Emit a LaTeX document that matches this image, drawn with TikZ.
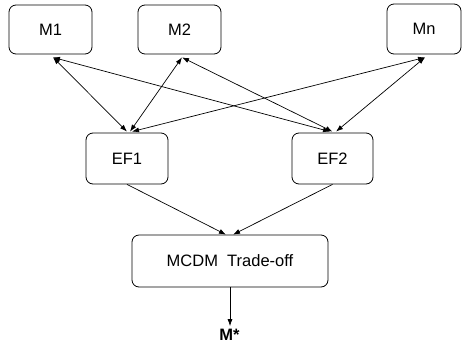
\documentclass[tikz,border=0pt]{standalone}
\usepackage{fontspec}
\setmainfont{Liberation Sans}
\usetikzlibrary{arrows.meta}
\begin{document}
\begin{tikzpicture}[x=1pt,y=-1pt,
  box/.style={draw, line width=0.8pt, rounded corners=7pt, inner sep=0pt,
    font=\fontsize{16.5}{19}\selectfont},
  link/.style={line width=0.7pt, {Latex[length=7pt,width=5pt]}-{Latex[length=7pt,width=5pt]}},
  flow/.style={line width=0.7pt, -{Latex[length=7pt,width=5pt]}}]
\useasboundingbox (0,0) rectangle (462,359);
% model alternatives
\node[box, minimum width=83pt, minimum height=49pt] (M1) at (50.5,29.5) {M1};
\node[box, minimum width=83pt, minimum height=49pt] (M2) at (179.5,29.5) {M2};
\node[box, minimum width=74pt, minimum height=50pt] (Mn) at (424,29) {Mn};
% evaluation functions
\node[box, minimum width=82pt, minimum height=51pt] (EF1) at (127,158.5) {EF1};
\node[box, minimum width=81pt, minimum height=51pt] (EF2) at (332.5,158.5) {EF2};
% trade-off and result
\node[box, minimum width=196pt, minimum height=52pt] (T) at (230,261) {MCDM\ \ Trade-off};
\node[font=\fontsize{16.5}{19}\selectfont\bfseries, inner sep=0pt] (R) at (229.5,335) {M*};
% two-way links between models and evaluation functions
\draw[link] ([xshift=2.5pt,yshift=-3pt]M1.south) -- ([xshift=0pt,yshift=1pt]EF1.north);
\draw[link] ([xshift=2.5pt,yshift=-3pt]M1.south) -- ([xshift=-2.5pt,yshift=1pt]EF2.north);
\draw[link] ([xshift=2.5pt,yshift=-3pt]M2.south) -- ([xshift=3pt,yshift=1pt]EF1.north);
\draw[link] ([xshift=2.5pt,yshift=-3pt]M2.south) -- ([xshift=0pt,yshift=1pt]EF2.north);
\draw[link] ([xshift=1pt,yshift=-3pt]Mn.south) -- ([xshift=5pt,yshift=1pt]EF1.north);
\draw[link] ([xshift=1pt,yshift=-3pt]Mn.south) -- ([xshift=3.5pt,yshift=1pt]EF2.north);
% into the trade-off, then down to the chosen model
\draw[flow] (EF1.south) -- ([xshift=-4pt]T.north);
\draw[flow] (EF2.south) -- ([xshift=3pt]T.north);
\draw[flow] (T.south) -- ([yshift=3pt]T.south |- R.north);
\end{tikzpicture}
\end{document}
